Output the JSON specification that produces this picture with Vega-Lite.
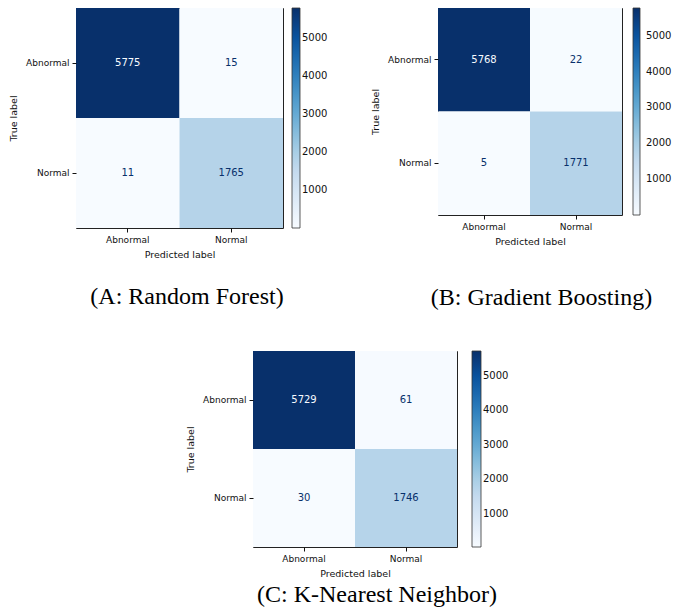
{
  "$schema": "https://vega.github.io/schema/vega-lite/v6.json",
  "padding": {"left": 8, "top": 7, "right": 0, "bottom": 0},
  "background": "white",
  "config": {
    "view": {"stroke": "#222", "strokeWidth": 1},
    "axis": {"labelFont": "DejaVu Sans", "labelFontSize": 9, "titleFont": "DejaVu Sans", "titleFontSize": 9.5, "titleFontWeight": "normal", "labelColor": "#111", "titleColor": "#111", "tickColor": "#111", "tickSize": 4, "domain": false, "grid": false, "labelPadding": 3, "titlePadding": 7},
    "axisX": {"labelAngle": 0, "titlePadding": 5},
    "legend": {"labelFont": "DejaVu Sans", "labelFontSize": 10, "labelColor": "#111", "gradientStrokeColor": "#333", "gradientStrokeWidth": 0.8, "labelOffset": 9},
    "title": {"font": "Liberation Serif", "fontSize": 24, "fontWeight": "normal", "color": "#000", "orient": "bottom", "frame": "group", "anchor": "middle"},
    "text": {"font": "DejaVu Sans", "fontSize": 10}
  },
  "datasets": {
    "rf": [
      {"true": "Abnormal", "pred": "Abnormal", "count": 5775},
      {"true": "Abnormal", "pred": "Normal", "count": 15},
      {"true": "Normal", "pred": "Abnormal", "count": 11},
      {"true": "Normal", "pred": "Normal", "count": 1765}
    ],
    "gb": [
      {"true": "Abnormal", "pred": "Abnormal", "count": 5768},
      {"true": "Abnormal", "pred": "Normal", "count": 22},
      {"true": "Normal", "pred": "Abnormal", "count": 5},
      {"true": "Normal", "pred": "Normal", "count": 1771}
    ],
    "knn": [
      {"true": "Abnormal", "pred": "Abnormal", "count": 5729},
      {"true": "Abnormal", "pred": "Normal", "count": 61},
      {"true": "Normal", "pred": "Abnormal", "count": 30},
      {"true": "Normal", "pred": "Normal", "count": 1746}
    ],
    "empty": []
  },
  "vconcat": [
    {
      "hconcat": [
        {
          "width": 207, "height": 220,
          "data": {"name": "rf"},
          "title": {"text": "(A: Random Forest)", "dx": 7.5, "offset": 26},
          "encoding": {
            "x": {"field": "pred", "type": "nominal", "sort": ["Abnormal", "Normal"], "title": "Predicted label", "scale": {"paddingInner": 0, "paddingOuter": 0}},
            "y": {"field": "true", "type": "nominal", "sort": ["Abnormal", "Normal"], "title": "True label", "scale": {"paddingInner": 0, "paddingOuter": 0}}
          },
          "layer": [
            {"mark": "rect", "encoding": {"color": {"field": "count", "type": "quantitative",
              "scale": {"domain": [11, 731.5, 1452, 2172.5, 2893, 3613.5, 4334, 5054.5, 5775], "range": ["#f7fbff", "#deebf7", "#c6dbef", "#9ecae1", "#6baed6", "#4292c6", "#2171b5", "#08519c", "#08306b"]},
              "legend": {"title": null, "format": "d", "values": [1000, 2000, 3000, 4000, 5000], "gradientLength": 220, "gradientThickness": 8, "offset": 9}}}},
            {"mark": "text", "encoding": {"text": {"field": "count", "type": "quantitative"}, "color": {"condition": {"test": "datum.count > 3000", "value": "#f7fbff"}, "value": "#08306b"}}}
          ]
        },
        {
          "width": 184, "height": 207,
          "data": {"name": "gb"},
          "title": {"text": "(B: Gradient Boosting)", "dx": 11.5, "offset": 40},
          "encoding": {
            "x": {"field": "pred", "type": "nominal", "sort": ["Abnormal", "Normal"], "title": "Predicted label", "scale": {"paddingInner": 0, "paddingOuter": 0}},
            "y": {"field": "true", "type": "nominal", "sort": ["Abnormal", "Normal"], "title": "True label", "scale": {"paddingInner": 0, "paddingOuter": 0}}
          },
          "layer": [
            {"mark": "rect", "encoding": {"color": {"field": "count", "type": "quantitative",
              "scale": {"domain": [5, 725.375, 1445.75, 2166.125, 2886.5, 3606.875, 4327.25, 5047.625, 5768], "range": ["#f7fbff", "#deebf7", "#c6dbef", "#9ecae1", "#6baed6", "#4292c6", "#2171b5", "#08519c", "#08306b"]},
              "legend": {"title": null, "format": "d", "values": [1000, 2000, 3000, 4000, 5000], "gradientLength": 207, "gradientThickness": 7, "offset": 11, "labelOffset": 6}}}},
            {"mark": "text", "encoding": {"text": {"field": "count", "type": "quantitative"}, "color": {"condition": {"test": "datum.count > 3000", "value": "#f7fbff"}, "value": "#08306b"}}}
          ]
        }
      ],
      "spacing": 41,
      "resolve": {"scale": {"color": "independent"}}
    },
    {
      "hconcat": [
        {
          "width": 109, "height": 10,
          "data": {"name": "empty"},
          "mark": "point",
          "view": {"stroke": null}
        },
        {
          "width": 204, "height": 196,
          "data": {"name": "knn"},
          "title": {"text": "(C: K-Nearest Neighbor)", "dx": 22, "offset": 5},
          "encoding": {
            "x": {"field": "pred", "type": "nominal", "sort": ["Abnormal", "Normal"], "title": "Predicted label", "scale": {"paddingInner": 0, "paddingOuter": 0}},
            "y": {"field": "true", "type": "nominal", "sort": ["Abnormal", "Normal"], "title": "True label", "scale": {"paddingInner": 0, "paddingOuter": 0}}
          },
          "layer": [
            {"mark": "rect", "encoding": {"color": {"field": "count", "type": "quantitative",
              "scale": {"domain": [30, 742.375, 1454.75, 2167.125, 2879.5, 3591.875, 4304.25, 5016.625, 5729], "range": ["#f7fbff", "#deebf7", "#c6dbef", "#9ecae1", "#6baed6", "#4292c6", "#2171b5", "#08519c", "#08306b"]},
              "legend": {"title": null, "format": "d", "values": [1000, 2000, 3000, 4000, 5000], "gradientLength": 196, "gradientThickness": 9, "offset": 15}}}},
            {"mark": "text", "encoding": {"text": {"field": "count", "type": "quantitative"}, "color": {"condition": {"test": "datum.count > 3000", "value": "#f7fbff"}, "value": "#08306b"}}}
          ]
        }
      ],
      "spacing": 0,
      "resolve": {"scale": {"color": "independent"}}
    }
  ],
  "spacing": 40,
  "resolve": {"scale": {"color": "independent"}}
}
